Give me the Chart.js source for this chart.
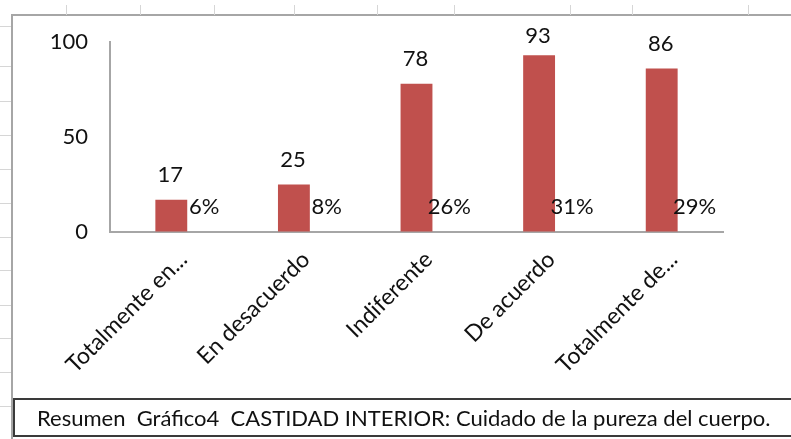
<!DOCTYPE html>
<html>
<head>
<meta charset="utf-8">
<script src="https://cdn.jsdelivr.net/npm/chart.js@4.4.1/dist/chart.umd.min.js"></script>
<style>
  body { margin: 0; background: #fff; }
  #wrap { position: relative; width: 791px; height: 439px; overflow: hidden; font-family: Lato, sans-serif; }
  .vl { position: absolute; top: 5px; width: 1px; height: 10px; background: #d6d6d6; }
  .hl { position: absolute; left: 0; width: 11px; height: 1px; background: #d6d6d6; }
  #frame { position: absolute; left: 11px; top: 14px; width: 900px; height: 500px; border: 2px solid #a6a6a6; box-sizing: border-box; }
  #myChart { position: absolute; left: 0; top: 0; }
  #caption { position: absolute; left: 13px; top: 398px; width: 800px; height: 39px; border: 2px solid #3a3a3a; box-sizing: border-box;
             font-size: 22px; color: #111; line-height: 36px; padding-left: 22px; white-space: pre; }
</style>
</head>
<body>
<div id="wrap">
  <div id="frame"></div>
  <canvas id="myChart" width="791" height="439"></canvas>
  <div id="caption">Resumen  Gráfico4  CASTIDAD INTERIOR: Cuidado de la pureza del cuerpo.</div>
</div>
<script>
const categories = ['Totalmente en...', 'En desacuerdo', 'Indiferente', 'De acuerdo', 'Totalmente de...'];
const counts = [17, 25, 78, 93, 86];
const shares = ['6%', '8%', '26%', '31%', '29%'];
const yTicks = [0, 50, 100];

// faint spreadsheet cell lines around the chart object
const wrap = document.getElementById('wrap');
[66, 140, 214, 294, 377, 454, 570, 632, 748].forEach(x => {
    const d = document.createElement('div');
    d.className = 'vl'; d.style.left = x + 'px';
    wrap.appendChild(d);
});
[26, 66, 101, 135, 169, 203, 237, 270, 305, 338, 372, 406].forEach(y => {
    const d = document.createElement('div');
    d.className = 'hl'; d.style.top = y + 'px';
    wrap.appendChild(d);
});

const textColor = '#111';
const labelFont = '22px Lato';

// value labels above the bars, percentage labels beside them near the base
const barLabels = {
    id: 'barLabels',
    afterDatasetsDraw(chart) {
        const c = chart.ctx;
        const meta = chart.getDatasetMeta(0);
        const base = chart.scales.y.getPixelForValue(0);
        c.save();
        c.font = labelFont;
        c.fillStyle = textColor;
        c.textAlign = 'center';
        c.textBaseline = 'middle';
        meta.data.forEach((bar, i) => {
            const y = Math.max(bar.y - 25, chart.chartArea.top - 6);
            c.fillText(String(counts[i]), bar.x - 1, y);
            c.fillText(shares[i], bar.x + bar.width + 1, base - 25);
        });
        c.restore();
    }
};

const ctx = document.getElementById('myChart').getContext('2d');
const chart = new Chart(ctx, {
    type: 'bar',
    data: {
        labels: categories,
        datasets: [{
            data: counts,
            backgroundColor: '#c0504d',
            borderWidth: 0,
            barPercentage: 0.26,
            categoryPercentage: 1
        }]
    },
    options: {
        responsive: false,
        animation: false,
        devicePixelRatio: 1,
        layout: { padding: { left: 0, top: 42, right: 68, bottom: 0 } },
        plugins: {
            legend: { display: false },
            tooltip: { enabled: false }
        },
        scales: {
            x: {
                grid: { display: true, drawOnChartArea: false, drawTicks: false },
                border: { display: true, color: '#a6a6a6', width: 2 },
                ticks: {
                    color: textColor,
                    font: { family: 'Lato', size: 23 },
                    minRotation: 45,
                    maxRotation: 45,
                    padding: 14,
                    labelOffset: 12,
                    autoSkip: false
                },
                afterFit(scale) { scale.height = 207; }
            },
            y: {
                min: 0,
                max: 100,
                grid: { display: true, drawOnChartArea: false, drawTicks: false },
                border: { display: true, color: '#a6a6a6', width: 2 },
                ticks: {
                    color: textColor,
                    font: { family: 'Lato', size: 22 },
                    padding: 22,
                    stepSize: 50,
                    callback: (v) => yTicks.includes(v) ? v : null
                },
                afterFit(scale) { scale.width = 110; }
            }
        }
    },
    plugins: [barLabels]
});
</script>
</body>
</html>
